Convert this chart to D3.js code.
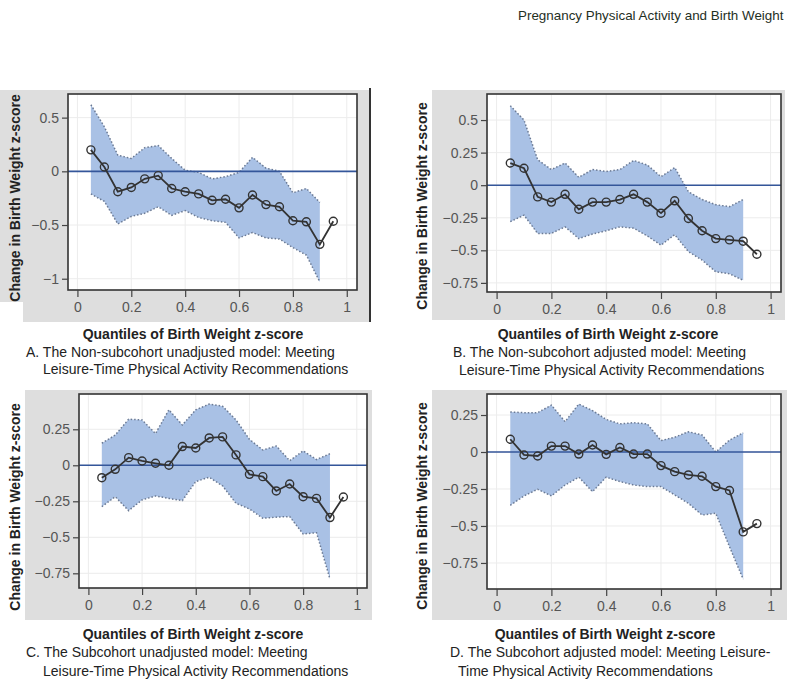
<!DOCTYPE html>
<html>
<head>
<meta charset="utf-8">
<script src="https://cdn.jsdelivr.net/npm/d3@7"></script>
<style>
  body { margin: 0; background: #ffffff; }
  svg text { font-family: "Liberation Sans", Arial, sans-serif; }
</style>
</head>
<body>
<div id="chart-area"></div>
<script>
// quantiles of the estimates and of the confidence band
var quantiles = [0.05, 0.1, 0.15, 0.2, 0.25, 0.3, 0.35, 0.4, 0.45, 0.5, 0.55, 0.6, 0.65, 0.7, 0.75, 0.8, 0.85, 0.9, 0.95];
var bandQuantiles = [0.05, 0.1, 0.15, 0.2, 0.25, 0.3, 0.35, 0.4, 0.45, 0.5, 0.55, 0.6, 0.65, 0.7, 0.75, 0.8, 0.85, 0.9];
var xTicks = [0, 0.2, 0.4, 0.6, 0.8, 1];

// A. Non-subcohort unadjusted
var estA = [0.20, 0.04, -0.19, -0.15, -0.07, -0.04, -0.16, -0.19, -0.21, -0.27, -0.26, -0.34, -0.22, -0.31, -0.33, -0.46, -0.47, -0.68, -0.465];
var upA  = [0.62, 0.415, 0.15, 0.12, 0.22, 0.24, 0.12, 0.01, -0.01, -0.07, -0.05, -0.01, 0.13, 0.03, 0.0, -0.20, -0.16, -0.29];
var lowA = [-0.21, -0.28, -0.49, -0.42, -0.39, -0.33, -0.41, -0.365, -0.43, -0.46, -0.475, -0.62, -0.57, -0.62, -0.63, -0.71, -0.78, -1.03];
var yTicksA = [0.5, 0, -0.5, -1];

// B. Non-subcohort adjusted
var estB = [0.17, 0.13, -0.09, -0.13, -0.07, -0.185, -0.13, -0.13, -0.11, -0.07, -0.13, -0.215, -0.12, -0.256, -0.35, -0.41, -0.42, -0.43, -0.53];
var upB  = [0.61, 0.50, 0.195, 0.12, 0.17, 0.06, 0.12, 0.105, 0.12, 0.19, 0.155, 0.065, 0.135, -0.05, -0.11, -0.15, -0.165, -0.11];
var lowB = [-0.28, -0.23, -0.37, -0.37, -0.32, -0.41, -0.375, -0.35, -0.32, -0.33, -0.39, -0.46, -0.38, -0.51, -0.575, -0.665, -0.68, -0.73];
var yTicksB = [0.5, 0.25, 0, -0.25, -0.5, -0.75];

// C. Subcohort unadjusted
var estC = [-0.086, -0.028, 0.053, 0.03, 0.014, 0.0, 0.13, 0.12, 0.19, 0.197, 0.072, -0.063, -0.079, -0.178, -0.13, -0.218, -0.23, -0.363, -0.22];
var upC  = [0.153, 0.21, 0.32, 0.315, 0.22, 0.385, 0.28, 0.385, 0.425, 0.41, 0.315, 0.18, 0.106, 0.134, 0.032, 0.10, 0.04, 0.08];
var lowC = [-0.287, -0.218, -0.315, -0.24, -0.213, -0.23, -0.245, -0.113, -0.083, -0.143, -0.264, -0.303, -0.368, -0.36, -0.356, -0.477, -0.468, -0.79];
var yTicksC = [0.25, 0, -0.25, -0.5, -0.75];

// D. Subcohort adjusted
var estD = [0.086, -0.02, -0.027, 0.04, 0.04, -0.014, 0.047, -0.016, 0.03, -0.014, -0.014, -0.092, -0.133, -0.155, -0.164, -0.234, -0.26, -0.54, -0.484];
var upD  = [0.27, 0.266, 0.266, 0.317, 0.205, 0.324, 0.28, 0.22, 0.19, 0.198, 0.19, 0.077, 0.10, 0.137, 0.115, 0.0, 0.08, 0.13];
var lowD = [-0.36, -0.297, -0.252, -0.297, -0.223, -0.17, -0.268, -0.17, -0.2, -0.223, -0.234, -0.234, -0.29, -0.347, -0.426, -0.414, -0.64, -0.86];
var yTicksD = [0.25, 0, -0.25, -0.5, -0.75];

var yLabel = "Change in Birth Weight z-score";
var xLabel = "Quantiles of Birth Weight z-score";

const svgWidth = 800;
const svgHeight = 683;

var canvas = d3.select("#chart-area").append("svg")
               .attr("width", svgWidth)
               .attr("height", svgHeight);

canvas.append("text")
      .attr("x", 518)
      .attr("y", 20)
      .attr("font-size", 13.4)
      .attr("fill", "#1f301f")
      .text("Pregnancy Physical Activity and Birth Weight");

var panels = [
  { est: estA, up: upA, low: lowA, yTicks: yTicksA, yDomain: [-1.105, 0.72],
    frame: {x0: 68, x1: 357, y0: 94, y1: 290},
    gray: [[23, 90, 347, 232], [0, 90, 23, 212]], divider: 370,
    ylab: {x: 19.5, y: 198}, xlab: {x: 193, y: 339},
    caption: ["A. The Non-subcohort unadjusted model: Meeting", "Leisure-Time Physical Activity Recommendations"],
    cap: [{x: 26, y: 357}, {x: 43, y: 374}] },
  { est: estB, up: upB, low: lowB, yTicks: yTicksB, yDomain: [-0.82, 0.70],
    frame: {x0: 487, x1: 781, y0: 94, y1: 292},
    gray: [[432, 90, 353, 230]], divider: null,
    ylab: {x: 426.5, y: 206}, xlab: {x: 608, y: 339},
    caption: ["B. The Non-subcohort adjusted model: Meeting", "Leisure-Time Physical Activity Recommendations"],
    cap: [{x: 453, y: 357}, {x: 459, y: 375}] },
  { est: estC, up: upC, low: lowC, yTicks: yTicksC, yDomain: [-0.852, 0.495],
    frame: {x0: 79, x1: 367, y0: 394, y1: 588},
    gray: [[25, 390, 347, 230]], divider: null,
    ylab: {x: 20, y: 507}, xlab: {x: 193, y: 639},
    caption: ["C. The Subcohort unadjusted model: Meeting", "Leisure-Time Physical Activity Recommendations"],
    cap: [{x: 26, y: 657}, {x: 43, y: 676}] },
  { est: estD, up: upD, low: lowD, yTicks: yTicksD, yDomain: [-0.926, 0.392],
    frame: {x0: 487, x1: 781, y0: 394, y1: 589},
    gray: [[432, 390, 355, 230]], divider: null,
    ylab: {x: 426.5, y: 506}, xlab: {x: 605, y: 639},
    caption: ["D. The Subcohort adjusted model: Meeting Leisure-", "Time Physical Activity Recommendations"],
    cap: [{x: 450, y: 657}, {x: 458, y: 676}] }
];

panels.forEach(function (p) {
  var f = p.frame;
  var g = canvas.append("g");

  p.gray.forEach(function (r) {
    g.append("rect")
     .attr("x", r[0]).attr("y", r[1])
     .attr("width", r[2]).attr("height", r[3])
     .attr("fill", "#dedede");
  });
  if (p.divider) {
    g.append("line")
     .attr("x1", p.divider).attr("x2", p.divider)
     .attr("y1", 88).attr("y2", 322)
     .attr("stroke", "#333").attr("stroke-width", 2);
  }

  var xScale = d3.scaleLinear().domain([-0.035, 1.038]).range([f.x0, f.x1]);
  var yScale = d3.scaleLinear().domain(p.yDomain).range([f.y1, f.y0]);

  g.append("rect")
   .attr("x", f.x0).attr("y", f.y0)
   .attr("width", f.x1 - f.x0).attr("height", f.y1 - f.y0)
   .attr("fill", "#ffffff");

  // grid
  g.selectAll(".vgrid").data(xTicks).enter().append("line")
   .attr("x1", d => xScale(d)).attr("x2", d => xScale(d))
   .attr("y1", f.y0).attr("y2", f.y1)
   .attr("stroke", "#ececec").attr("stroke-width", 1);
  g.selectAll(".hgrid").data(p.yTicks).enter().append("line")
   .attr("x1", f.x0).attr("x2", f.x1)
   .attr("y1", d => yScale(d)).attr("y2", d => yScale(d))
   .attr("stroke", "#ececec").attr("stroke-width", 1);

  // confidence band
  var bandData = bandQuantiles.map((q, i) => ({q: q, up: p.up[i], low: p.low[i]}));
  var area = d3.area()
               .x(d => xScale(d.q))
               .y0(d => yScale(d.low))
               .y1(d => yScale(d.up));
  g.append("path").datum(bandData)
   .attr("d", area)
   .attr("fill", "#a9c1e5");
  ["up", "low"].forEach(function (k) {
    g.append("path").datum(bandData)
     .attr("d", d3.line().x(d => xScale(d.q)).y(d => yScale(d[k])))
     .attr("fill", "none")
     .attr("stroke", "#6b7a94")
     .attr("stroke-width", 1.5)
     .attr("stroke-dasharray", "1.5,2");
  });

  // zero reference
  g.append("line")
   .attr("x1", f.x0).attr("x2", f.x1)
   .attr("y1", yScale(0)).attr("y2", yScale(0))
   .attr("stroke", "#34569a").attr("stroke-width", 1.6);

  // estimates
  var pts = quantiles.map((q, i) => ({q: q, v: p.est[i]}));
  g.append("path").datum(pts)
   .attr("d", d3.line().x(d => xScale(d.q)).y(d => yScale(d.v)))
   .attr("fill", "none")
   .attr("stroke", "#333")
   .attr("stroke-width", 1.8);
  g.selectAll(".pt").data(pts).enter().append("circle")
   .attr("cx", d => xScale(d.q))
   .attr("cy", d => yScale(d.v))
   .attr("r", 4)
   .attr("fill", "none")
   .attr("stroke", "#333")
   .attr("stroke-width", 1.4);

  // frame
  g.append("rect")
   .attr("x", f.x0).attr("y", f.y0)
   .attr("width", f.x1 - f.x0).attr("height", f.y1 - f.y0)
   .attr("fill", "none")
   .attr("stroke", "#333").attr("stroke-width", 1.6);

  // axes
  var xAxis = d3.axisBottom(xScale).tickValues(xTicks).tickSize(7).tickPadding(5)
                .tickFormat(d => d3.format("")(d));
  var yAxis = d3.axisLeft(yScale).tickValues(p.yTicks).tickSize(6).tickPadding(3)
                .tickFormat(d => d3.format("")(d));

  var xg = g.append("g").attr("transform", "translate(0," + f.y1 + ")").call(xAxis);
  var yg = g.append("g").attr("transform", "translate(" + f.x0 + ",0)").call(yAxis);
  [xg, yg].forEach(function (ax) {
    ax.select(".domain").remove();
    ax.selectAll(".tick line").attr("stroke", "#444").attr("stroke-width", 1.2);
    ax.selectAll(".tick text")
      .attr("font-size", 14)
      .attr("font-family", "Liberation Sans, Arial, sans-serif")
      .attr("fill", "#555");
  });

  g.append("text")
   .attr("transform", "translate(" + p.ylab.x + "," + p.ylab.y + ") rotate(-90)")
   .attr("text-anchor", "middle")
   .attr("font-size", 14)
   .attr("font-weight", "bold")
   .attr("fill", "#222")
   .text(yLabel);

  g.append("text")
   .attr("x", p.xlab.x).attr("y", p.xlab.y)
   .attr("text-anchor", "middle")
   .attr("font-size", 14)
   .attr("font-weight", "bold")
   .attr("fill", "#222")
   .text(xLabel);

  p.caption.forEach(function (line, i) {
    g.append("text")
     .attr("x", p.cap[i].x).attr("y", p.cap[i].y)
     .attr("font-size", 14)
     .attr("fill", "#222")
     .text(line);
  });
});
</script>
</body>
</html>
